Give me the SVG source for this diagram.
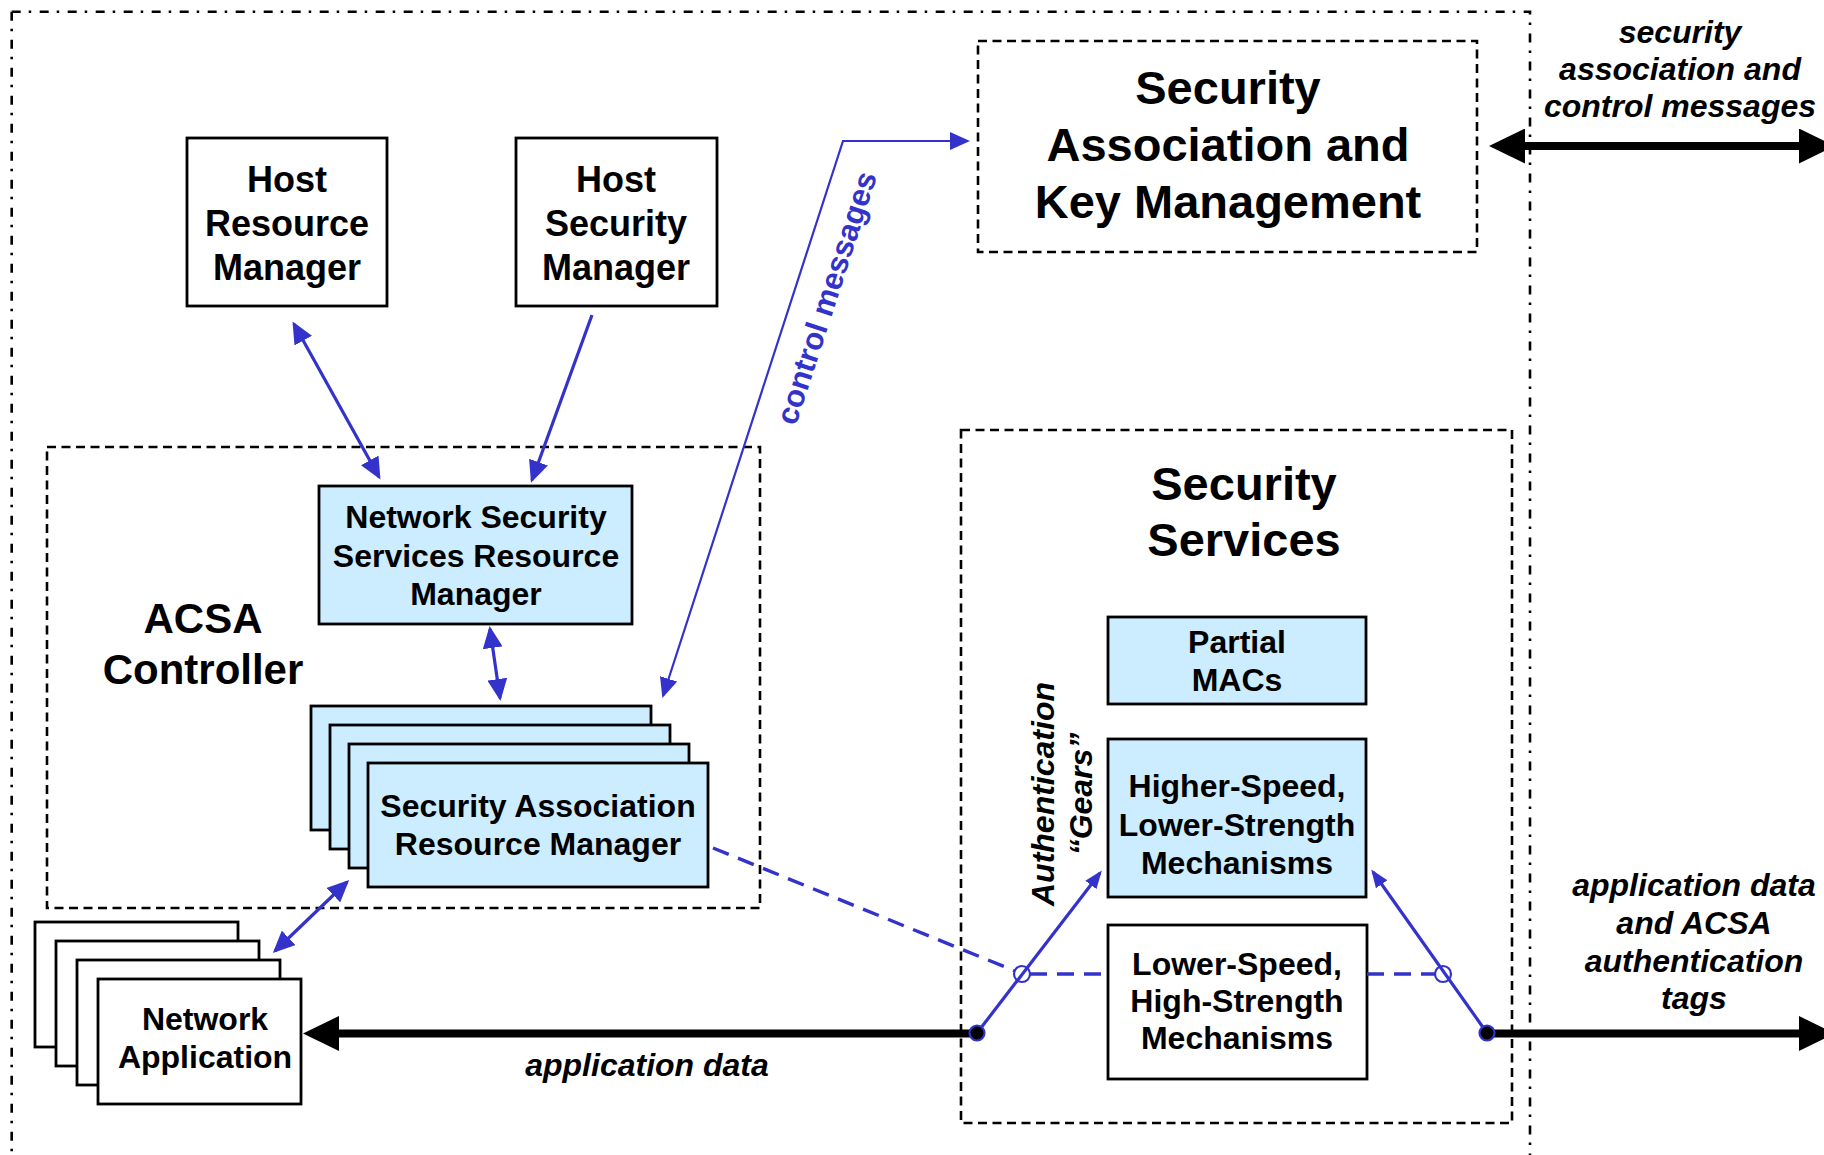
<svg xmlns="http://www.w3.org/2000/svg" width="1824" height="1155" viewBox="0 0 1824 1155">
  <style>
    .box { fill: #ffffff; stroke: #000; stroke-width: 2.8; }
    .lb { fill: #CCECFF; stroke: #000; stroke-width: 2.8; }
    .dash { fill: none; stroke: #000; stroke-width: 2.6; stroke-dasharray: 9 5.5; }
    .dashdot { fill: none; stroke: #000; stroke-width: 2.6; stroke-dasharray: 9 8 2.5 8.5; }
    .t { font-family: "Liberation Sans", Arial, sans-serif; font-weight: bold; text-anchor: middle; fill: #000; }
    .it { font-style: italic; }
    .bt { fill: #3333CC; }
    .bl { fill: none; stroke: #3333CC; stroke-width: 3.2; }
    .thin { stroke-width: 2.2; }
    .bd { stroke-dasharray: 17 10; stroke-width: 3.4; }
    .thick { fill: none; stroke: #000; stroke-width: 8; }
  </style>
  <defs>
    <marker id="ah" markerUnits="userSpaceOnUse" viewBox="0 0 22 20" markerWidth="22" markerHeight="20" refX="19" refY="10" orient="auto-start-reverse">
      <path d="M0,0 L22,10 L0,20 z" fill="#3333CC"/>
    </marker>
    <marker id="ahc" markerUnits="userSpaceOnUse" viewBox="0 0 20 18" markerWidth="20" markerHeight="18" refX="18" refY="9" orient="auto-start-reverse">
      <path d="M0,0 L20,9 L0,18 z" fill="#3333CC"/>
    </marker>
    <marker id="ahs" markerUnits="userSpaceOnUse" viewBox="0 0 18 14" markerWidth="18" markerHeight="14" refX="15" refY="7" orient="auto-start-reverse">
      <path d="M0,0 L18,7 L0,14 z" fill="#3333CC"/>
    </marker>
    <marker id="ahk" markerUnits="userSpaceOnUse" viewBox="0 0 36 35" markerWidth="36" markerHeight="35" refX="26" refY="17.5" orient="auto-start-reverse">
      <path d="M0,0 L36,17.5 L0,35 z" fill="#000"/>
    </marker>
  </defs>

  <rect width="1824" height="1155" fill="#ffffff"/>

  <!-- host boundary (open at the bottom) -->
  <g id="host-boundary">
    <path class="dashdot" d="M11.7,11.7 H1530 V1160"/>
    <path class="dashdot" d="M11.7,11.7 V1160"/>
  </g>

  <g id="host-resource-manager">
    <rect class="box" x="187" y="138" width="200" height="168"/>
    <text class="t" font-size="36"><tspan x="287" y="192">Host</tspan><tspan x="287" y="236">Resource</tspan><tspan x="287" y="280">Manager</tspan></text>
  </g>

  <g id="host-security-manager">
    <rect class="box" x="516" y="138" width="201" height="168"/>
    <text class="t" font-size="36"><tspan x="616" y="192">Host</tspan><tspan x="616" y="236">Security</tspan><tspan x="616" y="280">Manager</tspan></text>
  </g>

  <g id="sa-key-management">
    <rect class="dash" x="978" y="41" width="499" height="211"/>
    <text class="t" font-size="47"><tspan x="1228" y="104">Security</tspan><tspan x="1228" y="161">Association and</tspan><tspan x="1228" y="218">Key Management</tspan></text>
  </g>

  <g id="acsa-controller">
    <rect class="dash" x="47" y="447" width="713" height="461"/>
    <text class="t" font-size="42"><tspan x="203" y="633">ACSA</tspan><tspan x="203" y="684">Controller</tspan></text>
  </g>

  <g id="nss-resource-manager">
    <rect class="lb" x="319" y="486" width="313" height="138"/>
    <text class="t" font-size="32"><tspan x="476" y="528">Network Security</tspan><tspan x="476" y="567">Services Resource</tspan><tspan x="476" y="605">Manager</tspan></text>
  </g>

  <g id="sa-resource-manager">
    <rect class="lb" x="311" y="706" width="340" height="124"/>
    <rect class="lb" x="330" y="725" width="340" height="124"/>
    <rect class="lb" x="349" y="744" width="340" height="124"/>
    <rect class="lb" x="368" y="763" width="340" height="124"/>
    <text class="t" font-size="32"><tspan x="538" y="817">Security Association</tspan><tspan x="538" y="855">Resource Manager</tspan></text>
  </g>

  <g id="network-application">
    <rect class="box" x="35" y="922" width="203" height="125"/>
    <rect class="box" x="56" y="941" width="203" height="125"/>
    <rect class="box" x="77" y="960" width="203" height="125"/>
    <rect class="box" x="98" y="979" width="203" height="125"/>
    <text class="t" font-size="32"><tspan x="205" y="1030">Network</tspan><tspan x="205" y="1068">Application</tspan></text>
  </g>

  <g id="security-services">
    <rect class="dash" x="961" y="430" width="551" height="693"/>
    <text class="t" font-size="47"><tspan x="1244" y="500">Security</tspan><tspan x="1244" y="556">Services</tspan></text>
  </g>

  <g id="partial-macs">
    <rect class="lb" x="1108" y="617" width="258" height="87"/>
    <text class="t" font-size="32"><tspan x="1237" y="653">Partial</tspan><tspan x="1237" y="691">MACs</tspan></text>
  </g>

  <g id="higher-speed">
    <rect class="lb" x="1108" y="739" width="258" height="158"/>
    <text class="t" font-size="32"><tspan x="1237" y="797">Higher-Speed,</tspan><tspan x="1237" y="836">Lower-Strength</tspan><tspan x="1237" y="874">Mechanisms</tspan></text>
  </g>

  <g id="lower-speed">
    <rect class="box" x="1108" y="925" width="259" height="154"/>
    <text class="t" font-size="32"><tspan x="1237" y="975">Lower-Speed,</tspan><tspan x="1237" y="1012">High-Strength</tspan><tspan x="1237" y="1049">Mechanisms</tspan></text>
  </g>

  <g id="connectors">
    <!-- control paths between managers -->
    <line class="bl" x1="294" y1="324" x2="379" y2="477" marker-start="url(#ah)" marker-end="url(#ah)"/>
    <line class="bl" x1="592" y1="315" x2="532" y2="480" marker-end="url(#ah)"/>
    <line class="bl" x1="490" y1="629" x2="500" y2="698" marker-start="url(#ah)" marker-end="url(#ah)"/>
    <line class="bl" x1="347" y1="882" x2="275" y2="951" marker-start="url(#ah)" marker-end="url(#ah)"/>
    <polyline class="bl thin" points="663,696 843,141 968,141" marker-start="url(#ahc)" marker-end="url(#ahc)"/>

    <!-- gear selection -->
    <line class="bl bd" x1="713" y1="848" x2="1015" y2="971"/>
    <line class="bl bd" x1="1030" y1="974" x2="1108" y2="974"/>
    <line class="bl bd" x1="1367" y1="974" x2="1435" y2="974"/>

    <!-- data paths -->
    <line class="thick" x1="1499" y1="146" x2="1825" y2="146" marker-start="url(#ahk)" marker-end="url(#ahk)"/>
    <line class="thick" x1="977" y1="1033.5" x2="313" y2="1033.5" marker-end="url(#ahk)"/>
    <line class="thick" x1="1487" y1="1033.5" x2="1825" y2="1033.5" marker-end="url(#ahk)"/>

    <!-- authentication gear switches -->
    <line class="bl" x1="977" y1="1033" x2="1100" y2="873" marker-end="url(#ahs)"/>
    <line class="bl" x1="1487" y1="1033" x2="1373" y2="872" marker-end="url(#ahs)"/>
    <circle cx="1022" cy="974" r="8" fill="none" stroke="#3333CC" stroke-width="2.2"/>
    <circle cx="1443" cy="974" r="8" fill="none" stroke="#3333CC" stroke-width="2.2"/>
    <circle cx="977" cy="1033" r="7.5" fill="#000" stroke="#3333CC" stroke-width="2.2"/>
    <circle cx="1487" cy="1033" r="7.5" fill="#000" stroke="#3333CC" stroke-width="2.2"/>

    <!-- connector labels -->
    <text class="t bt" font-size="31" transform="translate(827,298) rotate(-72)" x="0" y="10">control messages</text>
    <text class="t it" font-size="32" x="647" y="1076">application data</text>
    <text class="t it" font-size="32"><tspan x="1680" y="43">security</tspan><tspan x="1680" y="80">association and</tspan><tspan x="1680" y="117">control messages</tspan></text>
    <text class="t it" font-size="32"><tspan x="1694" y="896">application data</tspan><tspan x="1694" y="934">and ACSA</tspan><tspan x="1694" y="972">authentication</tspan><tspan x="1694" y="1009">tags</tspan></text>
    <text class="t it" font-size="32" transform="translate(1054,794) rotate(-90)"><tspan x="0" y="0">Authentication</tspan><tspan x="0" y="38">“Gears”</tspan></text>
  </g>
</svg>
